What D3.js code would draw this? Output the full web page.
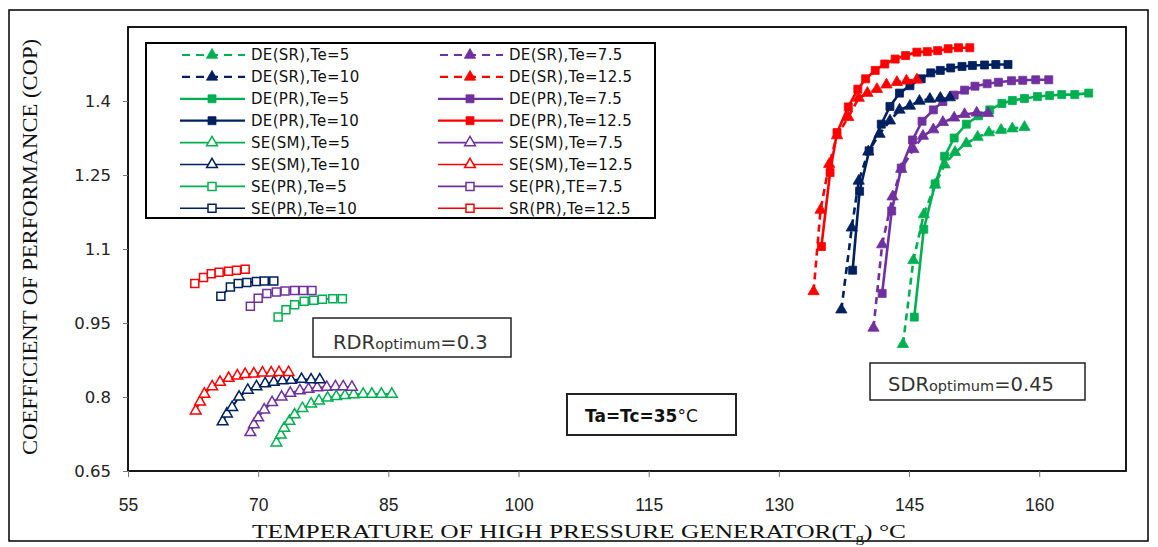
<!DOCTYPE html>
<html>
<head>
<meta charset="utf-8">
<script src="https://cdn.jsdelivr.net/npm/d3@7"></script>
<style>
  html, body { margin: 0; padding: 0; background: #fff; }
  svg { display: block; }
</style>
</head>
<body>
<div id="chart"></div>
<script>
// tick values
const tgTicks = [55, 70, 85, 100, 115, 130, 145, 160];
const copTicks = [0.65, 0.8, 0.95, 1.1, 1.25, 1.4];

// double effect, series flow (dashed, filled triangles)
const deSR5Tg = [144.3, 145.5, 146.7, 148.0, 149.1, 150.3, 151.6, 152.9, 154.2, 155.6, 156.9, 158.3];
const deSR5Cop = [0.907, 1.077, 1.170, 1.230, 1.271, 1.296, 1.314, 1.327, 1.336, 1.341, 1.344, 1.347];
const deSR75Tg = [140.9, 141.9, 143.1, 144.1, 145.5, 146.6, 147.8, 148.9, 150.2, 151.4, 152.8, 154.1];
const deSR75Cop = [0.940, 1.109, 1.206, 1.262, 1.302, 1.329, 1.342, 1.357, 1.366, 1.373, 1.376, 1.375];
const deSR10Tg = [137.2, 138.4, 139.2, 140.3, 141.6, 142.8, 143.9, 145.1, 146.2, 147.4, 148.6, 149.7];
const deSR10Cop = [0.977, 1.143, 1.238, 1.297, 1.333, 1.360, 1.382, 1.390, 1.400, 1.404, 1.406, 1.407];
const deSR125Tg = [134.0, 134.8, 135.8, 136.7, 138.0, 139.2, 140.2, 141.3, 142.4, 143.6, 144.7, 145.9];
const deSR125Cop = [1.014, 1.179, 1.272, 1.330, 1.367, 1.406, 1.416, 1.424, 1.433, 1.438, 1.441, 1.443];

// double effect, parallel flow (solid, filled squares)
const dePR5Tg = [145.6, 146.7, 148.0, 149.1, 150.2, 151.6, 153.0, 154.3, 155.7, 156.9, 158.3, 159.8, 161.2, 162.6, 164.1, 165.7];
const dePR5Cop = [0.962, 1.140, 1.232, 1.288, 1.325, 1.353, 1.370, 1.382, 1.395, 1.401, 1.405, 1.409, 1.411, 1.413, 1.413, 1.416];
const dePR75Tg = [141.9, 143.0, 144.1, 145.4, 146.5, 147.8, 148.9, 150.2, 151.4, 152.6, 154.0, 155.3, 156.8, 158.1, 159.6, 161.1];
const dePR75Cop = [1.010, 1.177, 1.264, 1.321, 1.359, 1.382, 1.399, 1.412, 1.422, 1.430, 1.435, 1.438, 1.441, 1.442, 1.443, 1.443];
const dePR10Tg = [138.5, 139.3, 140.4, 141.8, 142.8, 143.9, 145.1, 146.4, 147.5, 148.6, 149.8, 151.1, 152.3, 153.7, 155.0, 156.4];
const dePR10Cop = [1.057, 1.217, 1.299, 1.353, 1.389, 1.416, 1.431, 1.445, 1.457, 1.462, 1.467, 1.470, 1.472, 1.473, 1.474, 1.474];
const dePR125Tg = [134.9, 135.9, 136.7, 138.0, 139.1, 140.0, 141.1, 142.2, 143.4, 144.6, 145.9, 147.1, 148.3, 149.5, 150.7, 152.0];
const dePR125Cop = [1.105, 1.255, 1.336, 1.388, 1.424, 1.445, 1.462, 1.475, 1.485, 1.492, 1.499, 1.500, 1.502, 1.506, 1.508, 1.508];

// single effect (open triangles)
const seSM5Tg = [72.1, 72.6, 73.0, 73.6, 74.2, 75.1, 76.1, 77.0, 78.0, 79.0, 80.0, 81.0, 82.1, 83.1, 84.2, 85.4];
const seSM5Cop = [0.707, 0.723, 0.737, 0.751, 0.764, 0.777, 0.786, 0.792, 0.798, 0.801, 0.803, 0.805, 0.806, 0.806, 0.806, 0.806];
const seSM75Tg = [69.1, 69.5, 70.0, 70.7, 71.6, 72.7, 73.7, 74.8, 75.8, 76.8, 77.9, 78.9, 79.8, 80.8];
const seSM75Cop = [0.728, 0.744, 0.758, 0.774, 0.789, 0.800, 0.808, 0.813, 0.816, 0.819, 0.820, 0.821, 0.821, 0.820];
const seSM10Tg = [65.9, 66.4, 67.0, 67.8, 68.8, 69.8, 70.8, 71.8, 72.8, 73.8, 75.0, 76.1, 77.1];
const seSM10Cop = [0.750, 0.766, 0.779, 0.800, 0.814, 0.821, 0.827, 0.830, 0.833, 0.834, 0.836, 0.835, 0.835];
const seSM125Tg = [62.8, 63.3, 63.8, 64.7, 65.6, 66.6, 67.6, 68.5, 69.5, 70.5, 71.5, 72.4, 73.5];
const seSM125Cop = [0.772, 0.790, 0.806, 0.821, 0.830, 0.838, 0.843, 0.846, 0.847, 0.849, 0.849, 0.850, 0.850];

// single effect (open squares)
const sePR5Tg = [72.3, 73.2, 74.2, 75.3, 76.4, 77.4, 78.6, 79.7];
const sePR5Cop = [0.962, 0.977, 0.987, 0.994, 0.996, 0.998, 0.999, 0.999];
const sePR75Tg = [69.1, 70.0, 71.0, 72.1, 73.1, 74.2, 75.2, 76.2];
const sePR75Cop = [0.984, 1.000, 1.010, 1.013, 1.015, 1.016, 1.016, 1.016];
const sePR10Tg = [65.7, 66.8, 67.7, 68.7, 69.8, 70.7, 71.8];
const sePR10Cop = [1.004, 1.023, 1.030, 1.032, 1.034, 1.035, 1.035];
const sePR125Tg = [62.7, 63.7, 64.6, 65.5, 66.6, 67.5, 68.5];
const sePR125Cop = [1.030, 1.042, 1.050, 1.053, 1.055, 1.057, 1.059];

const GREEN = "#00b050";
const PURPLE = "#7030a0";
const NAVY = "#002060";
const RED = "#ff0000";

// series in legend order (row by row)
const series = [
  { label: "DE(SR),Te=5", tg: deSR5Tg, cop: deSR5Cop, color: GREEN, kind: "sr" },
  { label: "DE(SR),Te=7.5", tg: deSR75Tg, cop: deSR75Cop, color: PURPLE, kind: "sr" },
  { label: "DE(SR),Te=10", tg: deSR10Tg, cop: deSR10Cop, color: NAVY, kind: "sr" },
  { label: "DE(SR),Te=12.5", tg: deSR125Tg, cop: deSR125Cop, color: RED, kind: "sr" },
  { label: "DE(PR),Te=5", tg: dePR5Tg, cop: dePR5Cop, color: GREEN, kind: "pr" },
  { label: "DE(PR),Te=7.5", tg: dePR75Tg, cop: dePR75Cop, color: PURPLE, kind: "pr" },
  { label: "DE(PR),Te=10", tg: dePR10Tg, cop: dePR10Cop, color: NAVY, kind: "pr" },
  { label: "DE(PR),Te=12.5", tg: dePR125Tg, cop: dePR125Cop, color: RED, kind: "pr" },
  { label: "SE(SM),Te=5", tg: seSM5Tg, cop: seSM5Cop, color: GREEN, kind: "sm" },
  { label: "SE(SM),Te=7.5", tg: seSM75Tg, cop: seSM75Cop, color: PURPLE, kind: "sm" },
  { label: "SE(SM),Te=10", tg: seSM10Tg, cop: seSM10Cop, color: NAVY, kind: "sm" },
  { label: "SE(SM),Te=12.5", tg: seSM125Tg, cop: seSM125Cop, color: RED, kind: "sm" },
  { label: "SE(PR),Te=5", tg: sePR5Tg, cop: sePR5Cop, color: GREEN, kind: "spr" },
  { label: "SE(PR),TE=7.5", tg: sePR75Tg, cop: sePR75Cop, color: PURPLE, kind: "spr" },
  { label: "SE(PR),Te=10", tg: sePR10Tg, cop: sePR10Cop, color: NAVY, kind: "spr" },
  { label: "SR(PR),Te=12.5", tg: sePR125Tg, cop: sePR125Cop, color: RED, kind: "spr" },
];

const styles = {
  sr: { dash: "7,5", width: 2.6, symbol: d3.symbolTriangle, size: 55, open: false },
  pr: { dash: null, width: 2.6, symbol: d3.symbolSquare, size: 64, open: false },
  sm: { dash: null, width: 2, symbol: d3.symbolTriangle, size: 50, open: true },
  spr: { dash: null, width: 2, symbol: d3.symbolSquare, size: 64, open: true },
};

const width = 1158;
const height = 547;
const plot = { left: 128, top: 27, right: 1126, bottom: 471 };

const svg = d3.select("#chart").append("svg").attr("width", width).attr("height", height);

// outer frame
svg.append("rect")
  .attr("x", 9).attr("y", 10).attr("width", 1139).attr("height", 531)
  .attr("fill", "none").attr("stroke", "#000").attr("stroke-width", 1.5);

const x = d3.scaleLinear().domain([55, 170]).range([plot.left, plot.right]);
const y = d3.scaleLinear().domain([0.65, 1.55]).range([plot.bottom, plot.top]);

// plot area frame
svg.append("rect")
  .attr("x", plot.left).attr("y", plot.top)
  .attr("width", plot.right - plot.left).attr("height", plot.bottom - plot.top)
  .attr("fill", "none").attr("stroke", "#000").attr("stroke-width", 1.8);

const yAxis = svg.append("g")
  .attr("transform", `translate(${plot.left},0)`)
  .call(d3.axisLeft(y).tickValues(copTicks).tickSize(5).tickPadding(12).tickFormat((d) => String(+d.toFixed(2))));
yAxis.select(".domain").remove();
yAxis.selectAll("line").attr("stroke", "#777");
yAxis.selectAll("text")
  .attr("font-family", "DejaVu Sans, Verdana, sans-serif")
  .attr("font-size", 16.5)
  .attr("fill", "#222");

const xAxis = svg.append("g")
  .attr("transform", `translate(0,${plot.bottom})`)
  .call(d3.axisBottom(x).tickValues(tgTicks).tickSize(6).tickPadding(22));
xAxis.select(".domain").remove();
xAxis.selectAll("line").attr("stroke", "#777");
xAxis.selectAll("text")
  .attr("font-family", "Liberation Sans Narrow, Arial Narrow, sans-serif")
  .attr("font-size", 17.5)
  .attr("fill", "#222");

// axis titles
const xTitle = svg.append("text")
  .attr("x", 252).attr("y", 538)
  .attr("font-family", "Liberation Serif, Times New Roman, serif")
  .attr("font-size", 19)
  .attr("fill", "#111")
  .attr("textLength", 654)
  .attr("lengthAdjust", "spacingAndGlyphs");
xTitle.append("tspan").text("TEMPERATURE OF HIGH PRESSURE GENERATOR(T");
xTitle.append("tspan").attr("dy", 4).attr("font-size", 13).text("g");
xTitle.append("tspan").attr("dy", -4).text(") \u00B0C");

svg.append("text")
  .attr("transform", "translate(37,455) rotate(-90)")
  .attr("font-family", "Liberation Serif, Times New Roman, serif")
  .attr("font-size", 20)
  .attr("fill", "#111")
  .attr("textLength", 416)
  .attr("lengthAdjust", "spacingAndGlyphs")
  .text("COEFFICIENT OF PERFORMANCE (COP)");

// series
const line = d3.line().x((d) => x(d[0])).y((d) => y(d[1]));
const drawOrder = [...series.filter((s) => s.kind === "sm" || s.kind === "spr"), ...series.filter((s) => s.kind === "pr"), ...series.filter((s) => s.kind === "sr")];

drawOrder.forEach((s) => {
  const st = styles[s.kind];
  const pts = s.tg.map((t, i) => [t, s.cop[i]]);
  const g = svg.append("g");
  g.append("path")
    .attr("d", line(pts))
    .attr("fill", "none")
    .attr("stroke", s.color)
    .attr("stroke-width", st.width)
    .attr("stroke-dasharray", st.dash);
  g.selectAll("path.mk")
    .data(pts)
    .join("path")
    .attr("class", "mk")
    .attr("transform", (d) => `translate(${x(d[0])},${y(d[1])})`)
    .attr("d", d3.symbol().type(st.symbol).size(st.size))
    .attr("fill", st.open ? "#fff" : s.color)
    .attr("stroke", s.color)
    .attr("stroke-width", st.open ? 1.5 : 0.8);
});

// annotation boxes
function noteBox(bx, by, bw, bh, strokeWidth) {
  svg.append("rect")
    .attr("x", bx).attr("y", by).attr("width", bw).attr("height", bh)
    .attr("fill", "#fff").attr("stroke", "#222").attr("stroke-width", strokeWidth);
}

noteBox(313, 318, 198, 39, 1.5);
const rdr = svg.append("text")
  .attr("x", 333).attr("y", 349)
  .attr("font-family", "DejaVu Sans, Verdana, sans-serif")
  .attr("fill", "#333");
rdr.append("tspan").attr("font-size", 19.5).text("RDR");
rdr.append("tspan").attr("font-size", 14.5).text("optimum");
rdr.append("tspan").attr("font-size", 19.5).text("=0.3");

noteBox(870, 363, 215, 37, 1.5);
const sdr = svg.append("text")
  .attr("x", 888).attr("y", 391)
  .attr("font-family", "DejaVu Sans, Verdana, sans-serif")
  .attr("fill", "#333");
sdr.append("tspan").attr("font-size", 19.5).text("SDR");
sdr.append("tspan").attr("font-size", 14.5).text("optimum");
sdr.append("tspan").attr("font-size", 19.5).text("=0.45");

noteBox(567, 394, 169, 41, 2);
const tatc = svg.append("text")
  .attr("x", 585).attr("y", 422)
  .attr("font-family", "DejaVu Sans, Verdana, sans-serif")
  .attr("font-size", 17)
  .attr("fill", "#111");
tatc.append("tspan").attr("font-weight", "bold").text("Ta=Tc=35");
tatc.append("tspan").text("\u00B0C");

// legend
const legend = svg.append("g");
legend.append("rect")
  .attr("x", 146).attr("y", 43).attr("width", 509).attr("height", 175)
  .attr("fill", "#fff").attr("stroke", "#000").attr("stroke-width", 2);

const colX = [180, 438];
series.forEach((s, i) => {
  const st = styles[s.kind];
  const row = Math.floor(i / 2);
  const col = i % 2;
  const lx = colX[col];
  const ly = 55 + row * 21.9;
  const entry = legend.append("g").attr("transform", `translate(${lx},${ly})`);
  entry.append("line")
    .attr("x1", 0).attr("x2", 65).attr("y1", 0).attr("y2", 0)
    .attr("stroke", s.color).attr("stroke-width", st.width - 0.4)
    .attr("stroke-dasharray", st.dash ? "8,6" : null)
    .attr("stroke-dashoffset", st.dash ? -2 : null);
  entry.append("path")
    .attr("transform", "translate(32,0)")
    .attr("d", d3.symbol().type(st.symbol).size(st.size))
    .attr("fill", st.open ? "#fff" : s.color)
    .attr("stroke", s.color)
    .attr("stroke-width", st.open ? 1.5 : 0.8);
  entry.append("text")
    .attr("x", 71).attr("y", 0).attr("dy", "0.36em")
    .attr("font-family", "DejaVu Sans, Verdana, sans-serif")
    .attr("font-size", 15)
    .attr("letter-spacing", 0.3)
    .attr("fill", "#111")
    .text(s.label);
});
</script>
</body>
</html>
